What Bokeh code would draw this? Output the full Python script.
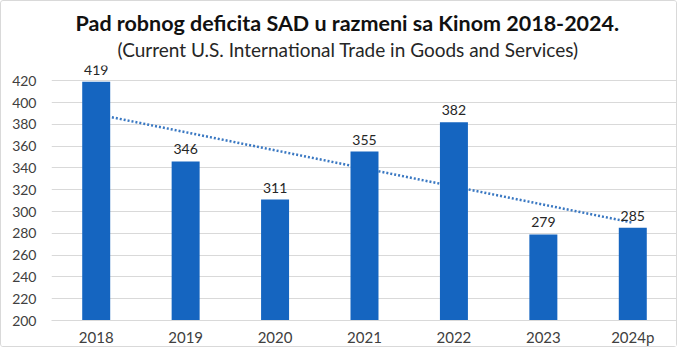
import numpy as np
from bokeh.plotting import figure
from bokeh.models import ColumnDataSource, Title, FixedTicker, Range1d
from bokeh.embed import file_html
from bokeh.resources import INLINE

years = ["2018", "2019", "2020", "2021", "2022", "2023", "2024p"]
deficit = [419, 346, 311, 355, 382, 279, 285]
y_ticks = [200, 220, 240, 260, 280, 300, 320, 340, 360, 380, 400, 420]
title_text = "Pad robnog deficita SAD u razmeni sa Kinom 2018-2024."
subtitle_text = "(Current U.S. International Trade in Goods and Services)"

FONT = "Lato"

p = figure(x_range=years, y_range=Range1d(200, 434), width=677, height=347,
           output_backend="svg", toolbar_location=None, title=None,
           min_border_left=50, min_border_right=1, min_border_bottom=26, min_border_top=10)

p.add_layout(Title(text=subtitle_text, align="left", offset=66, text_font=FONT,
                   text_font_size="19px", text_font_style="normal", text_color="#262626",
                   standoff=10), "above")
p.add_layout(Title(text=title_text, align="left", offset=24, text_font=FONT,
                   text_font_size="21.5px", text_font_style="bold", text_color="#111111",
                   standoff=-10), "above")
# blank spacer line above the title
p.add_layout(Title(text=" ", text_font_size="8px", standoff=0), "above")

# trend line (linear least squares over category index)
xi = np.arange(1, len(deficit) + 1)
k, b = np.polyfit(xi, deficit, 1)
p.line(x=[years[0], years[-1]], y=[k * xi[0] + b, k * xi[-1] + b],
       line_color="#3A78C2", line_width=2.5, line_dash="2 2")

src = ColumnDataSource(dict(x=years, top=deficit, lab=[str(v) for v in deficit]))
p.vbar(x="x", top="top", bottom=200, width=0.313, source=src,
       fill_color="#1565C0", line_color=None)
p.text(x="x", y="top", text="lab", source=src, text_align="center",
       text_baseline="bottom", y_offset=-7, text_font_size="14px",
       text_color="#262626", text_font={"value": FONT})

p.yaxis.ticker = FixedTicker(ticks=y_ticks)
p.yaxis.axis_line_color = None
p.yaxis.major_tick_line_color = None
p.yaxis.minor_tick_line_color = None
p.yaxis.major_tick_out = 0
p.yaxis.major_tick_in = 0
p.yaxis.major_label_text_font = FONT
p.yaxis.major_label_text_font_size = "14px"
p.yaxis.major_label_text_color = "#404040"
p.yaxis.major_label_standoff = 15

p.xaxis.axis_line_color = "#d9d9d9"
p.xaxis.major_tick_line_color = None
p.xaxis.minor_tick_line_color = None
p.xaxis.major_tick_out = 0
p.xaxis.major_tick_in = 0
p.xaxis.major_label_text_font = FONT
p.xaxis.major_label_text_font_size = "15px"
p.xaxis.major_label_text_color = "#404040"
p.xaxis.major_label_standoff = 7

p.xgrid.grid_line_color = None
p.ygrid.grid_line_color = "#d9d9d9"
p.ygrid.ticker = FixedTicker(ticks=y_ticks)
p.outline_line_color = None
p.x_range.range_padding = 0
p.styles = {"border": "1px solid #d9d9d9", "border-radius": "3px"}

open("out.html", "w").write(file_html(p, INLINE))
